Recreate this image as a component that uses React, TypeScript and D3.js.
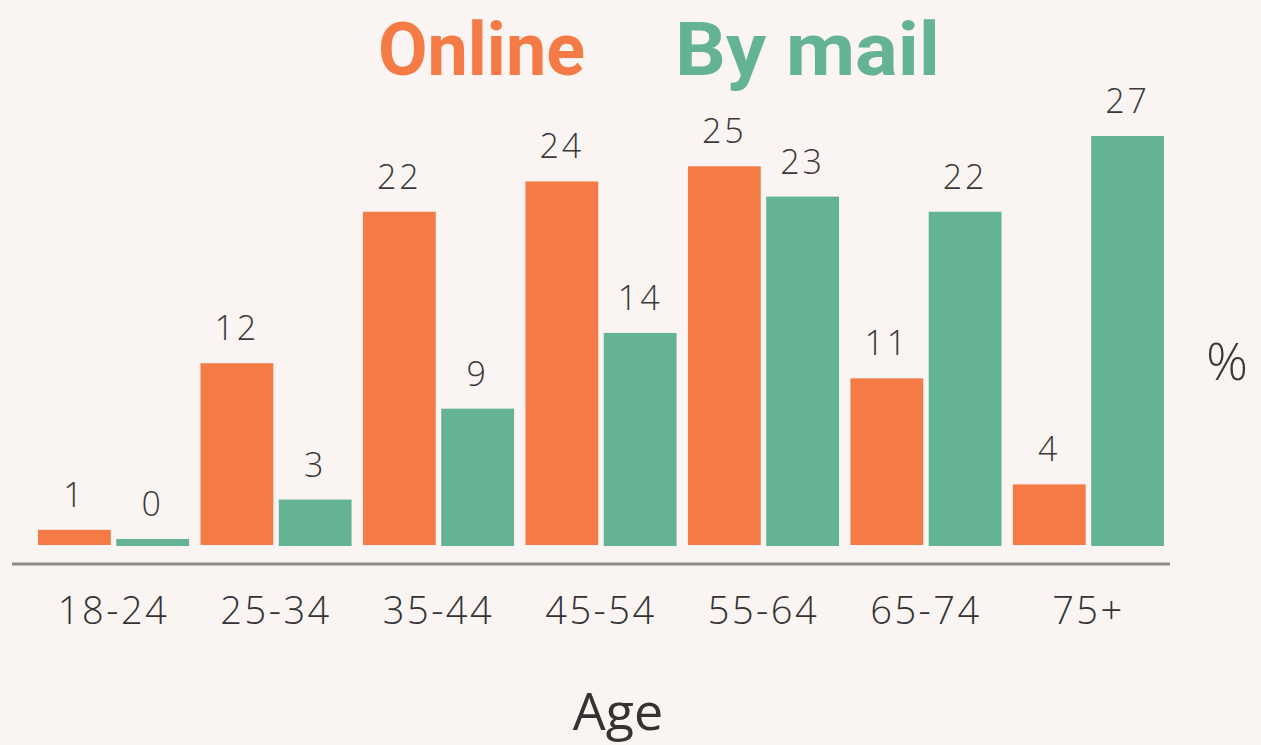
import React from "react";
import * as d3 from "d3";

const ageGroups = ["18-24", "25-34", "35-44", "45-54", "55-64", "65-74", "75+"];
const online = [1, 12, 22, 24, 25, 11, 4];
const byMail = [0, 3, 9, 14, 23, 22, 27];
const seriesNames = ["Online", "By mail"];

const W = 1261, H = 745;
const ORANGE = "#f47b45";
const GREEN = "#63b394";
const FONT = "'Open Sans', 'Noto Sans', sans-serif";

export default function App() {
  const x = d3.scaleBand().domain(ageGroups).range([38, 1164]).paddingInner(0.07);
  const xs = d3.scaleBand().domain(seriesNames).range([0, x.bandwidth()]).paddingInner(0.07);
  const y = d3.scaleLinear().domain([0, 27]).range([545, 136]);

  const rows = ageGroups.map((g, i) => ({ g, vals: [online[i], byMail[i]] }));

  return (
    <svg width={W} height={H} style={{ position: "absolute", left: 0, top: 0 }} fontFamily={FONT}>
      <rect width={W} height={H} fill="#faf4f2" />
      {/* legend as title */}
      <text x={378} y={75} fontFamily="Roboto, sans-serif" fontWeight={700} fontSize={74}
        fill={ORANGE} textLength={207} lengthAdjust="spacingAndGlyphs">Online</text>
      <text x={675} y={75} fontFamily="Roboto, sans-serif" fontWeight={700} fontSize={74}
        fill={GREEN} textLength={265} lengthAdjust="spacingAndGlyphs">By mail</text>

      {rows.map(r => (
        <g key={r.g} transform={`translate(${x(r.g)},0)`}>
          {r.vals.map((v, j) => {
            const top = v === 0 ? y(0) - 6 : y(v);
            const bx = xs(seriesNames[j])!;
            return (
              <g key={j}>
                <rect x={bx} y={top} width={xs.bandwidth()} height={y(0) + (j === 1 ? 1 : 0) - top}
                  fill={j === 0 ? ORANGE : GREEN} />
                <text x={bx + xs.bandwidth() / 2} y={top - 23} textAnchor="middle" fontSize={34}
                  letterSpacing={3} fill="#3a3a3a" fontWeight={300}>{v}</text>
              </g>
            );
          })}
          <text x={x.bandwidth() / 2} y={624} textAnchor="middle" fontSize={38} letterSpacing={2.5}
            fill="#333" fontWeight={300}>{r.g}</text>
        </g>
      ))}

      <line x1={12} x2={1170} y1={564} y2={564} stroke="#8c8c8c" strokeWidth={3} />

      <text x={1227} y={380} textAnchor="middle" fontSize={52} fill="#3a3a3a" fontWeight={300}>%</text>
      <text x={618} y={730} textAnchor="middle" fontSize={52} fill="#333" fontWeight={400}>Age</text>
    </svg>
  );
}
